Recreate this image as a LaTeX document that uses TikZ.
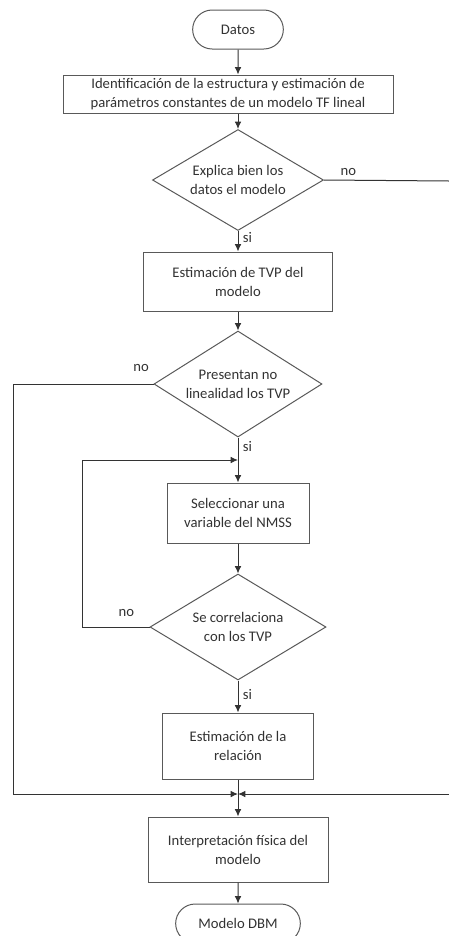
\documentclass[tikz,border=0pt]{standalone}
\usepackage{fontspec}
\setmainfont{Carlito}
\usetikzlibrary{arrows.meta,positioning,shapes.geometric,shapes.misc}
\definecolor{cline}{RGB}{89,89,89}
\definecolor{ctext}{RGB}{50,50,50}

\begin{document}
\begin{tikzpicture}[x=0.75pt,y=-0.75pt,
    font=\fontsize{11}{14.25}\selectfont, text=ctext,
    term/.style={draw=cline, line width=0.75pt, rounded rectangle, minimum width=72pt, minimum height=29.25pt, inner sep=2pt},
    proc/.style={draw=cline, line width=0.75pt, rectangle, align=center, inner sep=2pt},
    decis/.style={draw=cline, line width=0.75pt, diamond, aspect=1.6, align=center, inner sep=0pt},
    arr/.style={draw=black!80, line width=0.75pt, -{Latex[length=5.5pt,width=5pt]}},
    lnk/.style={draw=black!80, line width=0.75pt}]
    \useasboundingbox (0,0) rectangle (449,936);
    % nodes
    \node[term] (datos) at (238,29.5) {Datos};
    \node[proc, minimum width=247.5pt, minimum height=28.5pt] (ident) at (228,94)
         {Identificación de la estructura y estimación de\\parámetros constantes de un modelo TF lineal};
    \node[decis, minimum width=128.25pt, minimum height=75.75pt] (d1) at (238,180)
         {Explica bien los\\datos el modelo};
    \node[proc, minimum width=141.75pt, minimum height=44.25pt] (tvp) at (238,281.5)
         {Estimación de TVP del\\modelo};
    \node[decis, minimum width=126pt, minimum height=79.5pt] (d2) at (238,384)
         {Presentan no\\linealidad los TVP};
    \node[proc, minimum width=106.5pt, minimum height=45pt] (sel) at (238,513)
         {Seleccionar una\\variable del NMSS};
    \node[decis, minimum width=132pt, minimum height=79.5pt] (d3) at (238,627)
         {Se correlaciona\\con los TVP};
    \node[proc, minimum width=113.25pt, minimum height=49.5pt] (rel) at (238,746)
         {Estimación de la\\relación};
    \node[proc, minimum width=135pt, minimum height=48.75pt] (interp) at (238,849.5)
         {Interpretación física del\\modelo};
    \node[term, minimum width=97.5pt] (dbm) at (238,923.5) {Modelo DBM};
    % junctions
    \coordinate (jloop) at (238,460);
    \coordinate (jmerge) at (238,794);
    \coordinate (cloop) at (82,460);
    \coordinate (cfar) at (13,794);
    \coordinate (cright) at (449,181);
    \coordinate (cright2) at (449,794);
    % main flow
    \draw[arr] (datos) -- (datos |- ident.north);
    \draw[arr] (ident.south -| d1.north) -- (d1.north);
    \draw[arr] (d1) -- node[right, pos=0.3] (si1) {si} (tvp);
    \draw[arr] (tvp) -- (d2);
    \draw[arr] (d2) -- node[right, pos=0.2] (si2) {si} (sel);
    \draw[arr] (sel) -- (d3);
    \draw[arr] (d3) -- node[right, pos=0.45] (si3) {si} (rel);
    \draw[arr] (rel) -- (interp);
    \draw[arr] (interp) -- (dbm);
    % branches
    \draw[lnk] (d1.east) -- (cright);
    \node[above right, xshift=9pt] (no1) at (d1.east) {no};
    \draw[arr] (d2.west) -| (cfar) -- (jmerge);
    \node[above left, yshift=6pt] (no2) at (d2.west) {no};
    \draw[arr] (d3.west) -| (cloop) -- (jloop);
    \node[above left, xshift=-8pt, yshift=4pt] (no3) at (d3.west) {no};
    \draw[arr] (cright2) -- (jmerge);
\end{tikzpicture}
\end{document}
